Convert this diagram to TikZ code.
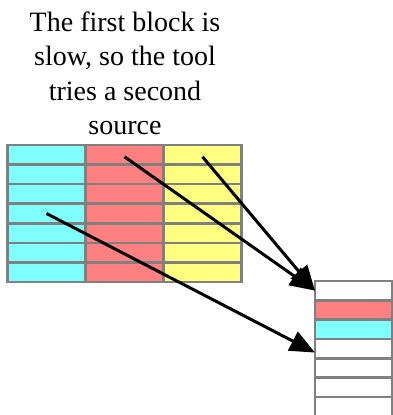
\documentclass[tikz,border=0pt]{standalone}
\usepackage{fontspec}
\setmainfont{Liberation Serif}
\usetikzlibrary{arrows.meta}

\definecolor{cellcyan}{RGB}{128,255,255}
\definecolor{cellred}{RGB}{255,128,128}
\definecolor{cellyellow}{RGB}{255,255,128}
\definecolor{cellgray}{RGB}{128,128,128}

\begin{document}
\begin{tikzpicture}[x=1pt,y=-1pt,
    cell/.style={draw=cellgray, line width=2.6pt, minimum width=78pt, minimum height=19.57pt, inner sep=0pt, outer sep=0pt},
    slot/.style={cell, minimum width=77pt, minimum height=19.3pt},
    hop/.style={line width=3pt, -{Triangle[length=25pt,width=21pt]}}]
    \useasboundingbox (0,0) rectangle (393,415);

    % Legenda no topo
    \node[align=center, anchor=north, inner sep=0pt, font=\fontsize{28}{34.5}\selectfont] (caption) at (125,11.5)
      {The first block is\\slow, so the tool\\tries a second\\source};

    % Blocos de origem: tres colunas de sete linhas
    \foreach \col/\hue/\x in {c/cellcyan/46.5, r/cellred/124.5, y/cellyellow/202.5} {
      \foreach \r in {1,...,7} {
        \node[cell, fill=\hue] (\col\r) at (\x, {145+(\r-0.5)*19.57}) {};
      }
    }

    % Bloco de destino
    \foreach \r/\hue in {1/white, 2/cellred, 3/cellcyan, 4/white, 5/white, 6/white, 7/white} {
      \node[slot, fill=\hue] (s\r) at (353.5, {281+(\r-0.5)*19.3}) {};
    }

    % Setas
    \draw[hop] ([yshift=-2pt]r1.center) -- (s1.west);
    \draw[hop] ([yshift=-2pt]y1.center) -- (s1.west);
    \draw[hop] (c4.center) -- ([yshift=-4pt]s4.west);
\end{tikzpicture}
\end{document}
